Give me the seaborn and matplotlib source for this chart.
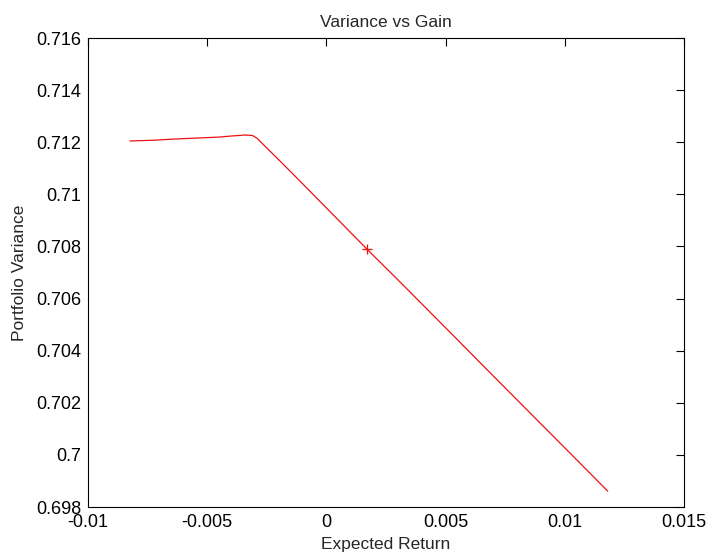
import matplotlib
matplotlib.use("Agg")
import matplotlib.pyplot as plt
import seaborn as sns
import pandas as pd

expected_return = [-0.00824, -0.0072, -0.0065, -0.0055, -0.0045, -0.0040, -0.0034,
                   -0.0031, -0.0029, -0.0027, -0.0020, -0.0010, 0.0, 0.0017,
                   0.0030, 0.0050, 0.0070, 0.0090, 0.0105, 0.0118]
portfolio_variance = [0.71205, 0.71208, 0.71212, 0.71216, 0.71220, 0.71224, 0.71228,
                      0.71226, 0.71215, 0.71196, 0.71133, 0.71041, 0.70948, 0.70790,
                      0.70672, 0.70488, 0.70303, 0.70119, 0.69981, 0.69861]
marker_x = [0.0017]
marker_y = [0.70790]

x_ticks = [-0.01, -0.005, 0, 0.005, 0.01, 0.015]
x_tick_labels = ["-0.01", "-0.005", "0", "0.005", "0.01", "0.015"]
y_ticks = [0.698, 0.7, 0.702, 0.704, 0.706, 0.708, 0.71, 0.712, 0.714, 0.716]
y_tick_labels = ["0.698", "0.7", "0.702", "0.704", "0.706", "0.708", "0.71", "0.712", "0.714", "0.716"]

df = pd.DataFrame({"x": expected_return, "y": portfolio_variance})
mk = pd.DataFrame({"x": marker_x, "y": marker_y})

sns.set_style("white")
plt.rcParams["font.family"] = ["Liberation Sans", "DejaVu Sans"]

fig = plt.figure(figsize=(7.07, 5.6), dpi=100)
ax = fig.add_axes([0.1245, 0.0946, 0.843, 0.8374])
sns.lineplot(data=df, x="x", y="y", ax=ax, color="#ee1111", linewidth=0.9, sort=False)
sns.scatterplot(data=mk, x="x", y="y", ax=ax, marker="+", s=45, color="#ee1111", linewidth=0.9)

ax.set_xlim(-0.01, 0.015)
ax.set_ylim(0.698, 0.716)
ax.set_xticks(x_ticks)
ax.set_xticklabels(x_tick_labels)
ax.set_yticks(y_ticks)
ax.set_yticklabels(y_tick_labels)
ax.tick_params(direction="in", length=6, width=0.8, top=True, right=True,
               labelsize=13, colors="black", pad=5)
for s in ax.spines.values():
    s.set_color("black")
    s.set_linewidth(0.8)
ax.set_xlabel("Expected Return", fontsize=12.5, labelpad=4)
ax.set_ylabel("Portfolio Variance", fontsize=12.5, labelpad=6)
ax.set_title("Variance vs Gain", fontsize=12.5, pad=8)
fig.savefig("out.png", dpi=100)
